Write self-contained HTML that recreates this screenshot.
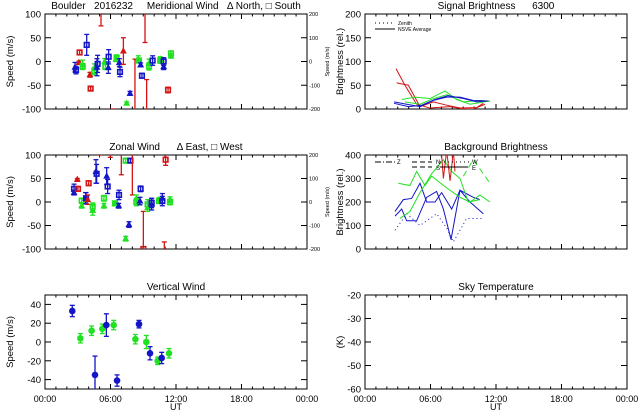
<!DOCTYPE html>
<html><head><meta charset="utf-8"><style>
html,body{margin:0;padding:0;background:#fff;}
svg{display:block;font-family:"Liberation Sans",sans-serif;}
</style></head><body>
<svg id="c" width="640" height="420" viewBox="0 0 640 420"></svg>
<script>
// ---------- DATA ----------
const xTickLabels = ["00:00","06:00","12:00","18:00","00:00"];
// Meridional wind
const merTimes = [2.75,2.84,3.11,3.17,3.82,3.45,3.45,4.12,4.18,4.52,4.52,4.76,4.82,5.13,5.47,5.53,5.80,5.83,6.20,6.50,6.56,6.81,6.87,7.18,7.48,7.79,8.24,8.55,8.61,8.76,8.88,9.16,9.31,9.53,9.53,9.86,10.56,10.56,10.87,10.87,11.27,11.54,11.54];
const merValues = [-12,-18,-2,19,35,-7,-10,-28,-57,-15,-20,-12,-5,115,0,-11,-13,10,-120,5,8,-2,-22,22,-88,-67,-120,5,2,-7,-30,120,-120,-5,-10,2,5,2,-11,0,-60,17,12];
const merErrors = [10,8,3,5,22,10,6,5,4,10,8,18,18,40,6,6,12,15,20,5,6,8,10,28,3,4,125,7,5,4,5,80,82,10,8,10,5,6,6,8,6,5,5];
const merColors = ["b","b","r","r","b","g","g","r","r","g","g","b","b","r","g","g","b","b","r","g","g","b","b","r","g","b","r","g","g","b","b","r","r","g","g","b","g","g","b","b","r","g","g"];
const merMarkers = ["t","s","t","s","s","t","s","t","s","t","s","t","s","t","t","s","t","s","t","t","s","t","s","t","t","t","t","t","s","t","s","t","t","t","s","s","t","s","t","s","s","s","t"];
// Zonal wind
const zonTimes = [2.66,2.66,2.96,3.02,3.36,3.36,3.72,3.76,3.91,4.00,4.37,4.37,4.67,4.73,5.04,5.40,5.40,5.98,5.65,5.74,6.41,6.41,6.75,6.78,6.99,7.39,7.39,7.69,7.82,8.00,8.37,8.37,8.70,8.76,9.01,9.40,9.40,9.77,9.77,10.44,10.44,10.75,10.75,10.93,11.05,11.45,11.45];
const zonValues = [20,28,48,28,-8,3,8,8,5,40,-18,-10,65,60,110,-8,8,115,55,33,-3,-3,-8,15,150,88,-78,-48,88,140,7,0,2,28,-100,-12,-5,-5,-2,5,2,8,2,-105,90,5,0];
const zonErrors = [5,10,2,5,5,4,12,12,10,5,10,8,25,20,10,5,6,20,18,15,5,4,5,10,92,4,5,6,4,125,8,8,8,6,80,8,10,12,10,4,5,10,10,20,12,6,6];
const zonColors = ["b","b","r","r","g","g","b","b","r","r","g","g","b","b","r","g","g","r","b","b","g","g","b","b","r","g","g","b","b","r","g","g","b","b","r","g","g","b","b","g","g","b","b","r","r","g","g"];
const zonMarkers = ["t","s","t","s","t","s","t","s","t","s","t","s","t","s","t","t","s","t","t","s","t","s","t","s","t","s","t","t","s","t","t","s","t","s","s","t","s","t","s","t","s","t","s","t","s","t","s"];
// Vertical wind
const verTimes = [2.50,3.24,4.27,4.58,5.25,5.62,6.29,6.60,8.28,8.61,9.28,9.62,10.32,10.69,11.36];
const verValues = [33,4,12,-35,14,18,18,-41,3,19,0,-12,-20,-17,-12];
const verErrors = [6,5,5,20,5,12,5,6,5,4,7,7,4,6,5];
const verColors = ["b","g","g","b","g","b","g","b","g","b","g","b","g","b","g"];
// Signal brightness
const sigTimes = [
 [2.84,3.66,4.73,5.95,7.79,9.01,9.92,10.99],
 [2.90,3.97,5.04,6.26,7.48,8.70,10.23,10.84],
 [3.36,4.58,5.95,7.33,8.40,9.62,11.45],
 [3.66,5.04,6.26,7.48,9.01,10.53,11.45],
 [2.66,3.82,5.04,6.26,7.48,8.70,9.92,11.15],
 [2.66,3.97,5.19,6.41,7.63,9.01,10.23,11.30]];
const sigValues = [
 [85,50,10,2,5,0,0,10],
 [55,50,5,15,8,2,3,12],
 [20,25,22,38,20,10,17],
 [15,10,22,30,15,18,16],
 [15,10,5,18,25,25,18,17],
 [12,5,8,20,28,22,15,17]];
const sigColors = ["r","r","g","g","b","b"];
// Background brightness
const bgTimes = [
 [2.75,3.36,3.82,4.73,5.65,6.56,7.18,7.88,8.70,9.62,10.84],
 [2.75,3.51,4.27,5.04,5.65,6.41,7.02,7.94,8.70,9.92,10.53],
 [2.75,3.82,5.04,6.56,7.48,8.09,9.31,10.84],
 [3.05,4.12,4.73,5.50,6.10,7.48,8.70,9.62,10.53,11.45],
 [3.20,4.12,5.04,6.10,7.18,7.94,8.70,9.46,10.53],
 [9.01,9.92,10.84,11.45],
 [7.02,7.18,7.48,7.79,7.94,8.09,8.24]];
const bgValues = [
 [140,170,120,120,220,245,170,40,250,200,150],
 [160,210,215,280,200,200,240,170,250,220,210],
 [80,150,100,150,90,30,130,130],
 [280,270,330,270,310,260,220,200,230,200],
 [130,160,240,320,380,330,300,200,210],
 [310,380,320,280],
 [400,300,420,290,350,420,330]];
const bgColors = ["b","b","b","g","g","g","r"];
const bgDash = ["","","1,3","","","6,4",""];

const COL = {r:"#d41414", g:"#22e022", b:"#1414c8"};
const svg = document.getElementById('c');
const NS = "http://www.w3.org/2000/svg";
function mk(tag, attrs, parent){
  const e = document.createElementNS(NS, tag);
  for (const k in attrs) e.setAttribute(k, attrs[k]);
  (parent||svg).appendChild(e);
  return e;
}
function txt(x,y,s,size,anchor,parent,rot){
  const t = mk('text',{x:x,y:y,'font-size':size,'text-anchor':anchor||'middle',fill:'#000'},parent);
  if(rot) t.setAttribute('transform','rotate(-90 '+x+' '+y+')');
  t.textContent = s;
  return t;
}
function panel(name,x0,x1,y0,y1,ymin,ymax,ticks,title,ytitle,xlabels,twin,ytOff){
  const g = mk('g',{});
  
  
  const X = h => x0 + h/24*(x1-x0);
  const Y = v => y1 - (v-ymin)/(ymax-ymin)*(y1-y0);
  const id = name+'-clip';
  const cp = mk('clipPath',{id:id},g); mk('rect',{x:x0,y:y0,width:x1-x0,height:y1-y0},cp);
  const frame = mk('rect',{x:x0,y:y0,width:x1-x0,height:y1-y0,fill:'none',stroke:'#000','stroke-width':1},g);
  
  
  for(let h=0;h<=24;h++){
    const L = h%6==0?5:2.5;
    mk('line',{x1:X(h),x2:X(h),y1:y1,y2:y1-L,stroke:'#000','stroke-width':1},g);
    mk('line',{x1:X(h),x2:X(h),y1:y0,y2:y0+L,stroke:'#000','stroke-width':1},g);
  }
  ticks.forEach(v=>{
    mk('line',{x1:x0,x2:x0+6,y1:Y(v),y2:Y(v),stroke:'#000'},g);
    mk('line',{x1:x1,x2:x1-6,y1:Y(v),y2:Y(v),stroke:'#000'},g);
    const t = txt(x0-4,Y(v)+3.5,String(v),9.5,'end',g);
    
    
  });
  if(twin){
    ["200","100","0","-100","-200"].forEach((s,i)=>{
      const t = txt(x1+2,y0+2+i*(y1-y0)/4,s,5.5,'start',g);
      
      
    });
    const tw = txt(x1+22,(y0+y1)/2,'Speed (m/s)',5.5,'middle',g,true);
    
    
  }
  const tt = txt((x0+x1)/2,y0-5,title,10,'middle',g);
  
  
  tt.style.whiteSpace='pre';
  const yt = txt(x0-ytOff,(y0+y1)/2,ytitle,9.5,'middle',g,true);
  
  
  if(xlabels){
    xTickLabels.forEach((s,i)=>{
      const t = txt(X(i*6),y1+13,s,9,'middle',g);
      
      
    });
    const ut = txt((x0+x1)/2,y1+21,'UT',9,'middle',g);
    
    
  }
  const data = mk('g',{'clip-path':'url(#'+id+')'},g);
  return {X,Y,g:data};
}
function errPoints(p,times,vals,errs,cols,marks,label){
  times.forEach((h,i)=>{
    const c = COL[cols[i]], x=p.X(h), y=p.Y(vals[i]);
    const e1=p.Y(vals[i]+errs[i]), e2=p.Y(vals[i]-errs[i]);
    const pt = mk('g',{},p.g);
    
    
    mk('line',{x1:x,x2:x,y1:e1,y2:e2,stroke:c,'stroke-width':1.3},pt);
    mk('line',{x1:x-2.5,x2:x+2.5,y1:e1,y2:e1,stroke:c,'stroke-width':1.3},pt);
    mk('line',{x1:x-2.5,x2:x+2.5,y1:e2,y2:e2,stroke:c,'stroke-width':1.3},pt);
    const m = marks?marks[i]:'c';
    if(m==='s') mk('rect',{x:x-2.3,y:y-2.3,width:4.6,height:4.6,fill:'none',stroke:c,'stroke-width':1.6},pt);
    else if(m==='t') mk('polygon',{points:(x)+','+(y-2.8)+' '+(x-2.6)+','+(y+2)+' '+(x+2.6)+','+(y+2),fill:c,stroke:c},pt);
    else mk('circle',{cx:x,cy:y,r:3.3,fill:c},pt);
  });
}
function lines(p,T,V,cols,dash,label){
  T.forEach((ts,i)=>{
    const pts = ts.map((h,j)=>p.X(h)+','+p.Y(V[i][j])).join(' ');
    const pl = mk('polyline',{points:pts,fill:'none',stroke:COL[cols[i]],'stroke-width':1,'stroke-dasharray':(dash&&dash[i])||'none'},p.g);
    
    
  });
}
const p1 = panel('meridional-wind-panel',45,307,14,109,-100,100,[100,50,0,-50,-100],'Boulder   2016232     Meridional Wind   \u0394 North, \u25A1 South','Speed (m/s)',false,true,32);
errPoints(p1,merTimes,merValues,merErrors,merColors,merMarkers,'meridional-point');
const p2 = panel('zonal-wind-panel',45,307,155,249,-100,100,[100,50,0,-50,-100],'Zonal Wind      \u0394 East, \u25A1 West','Speed (m/s)',false,true,32);
errPoints(p2,zonTimes,zonValues,zonErrors,zonColors,zonMarkers,'zonal-point');
const p3 = panel('vertical-wind-panel',45,307,295,389,-50,50,[40,20,0,-20,-40],'Vertical Wind','Speed (m/s)',true,false,32);
errPoints(p3,verTimes,verValues,verErrors,verColors,null,'vertical-point');
const p4 = panel('signal-brightness-panel',365,627,14,109,0,200,[200,150,100,50,0],'Signal Brightness      6300','Brightness (rel.)',false,false,22);
lines(p4,sigTimes,sigValues,sigColors,null,'signal-line');
const p5 = panel('background-brightness-panel',365,627,155,249,0,400,[400,300,200,100,0],'Background Brightness','Brightness (rel.)',false,false,22);
lines(p5,bgTimes,bgValues,bgColors,bgDash,'background-line');
const p6 = panel('sky-temperature-panel',365,627,295,389,-60,-20,[-20,-30,-40,-50,-60],'Sky Temperature','(K)',true,false,22);
// legends
const lg = mk('g',{});


mk('line',{x1:375,x2:395,y1:23,y2:23,stroke:'#000','stroke-dasharray':'1,3'},lg);
txt(398,25,'Zenith',5,'start',lg);
mk('line',{x1:375,x2:395,y1:29,y2:29,stroke:'#000'},lg);
txt(398,31,'NSVE Average',5,'start',lg);
const lg2 = mk('g',{});


mk('line',{x1:375,x2:395,y1:162,y2:162,stroke:'#000','stroke-dasharray':'6,2,1,2'},lg2);
txt(397,164,'Z',6,'start',lg2);
mk('line',{x1:412,x2:432,y1:162,y2:162,stroke:'#000','stroke-dasharray':'5,3'},lg2);
txt(436,164,'N',6,'start',lg2);
mk('line',{x1:412,x2:432,y1:167,y2:167,stroke:'#000','stroke-dasharray':'5,3'},lg2);
txt(436,170,'S',6,'start',lg2);
mk('line',{x1:440,x2:470,y1:162,y2:162,stroke:'#000','stroke-dasharray':'1,3'},lg2);
txt(472,164,'W',6,'start',lg2);
mk('line',{x1:440,x2:468,y1:167,y2:167,stroke:'#000'},lg2);
txt(472,170,'E',6,'start',lg2);
</script>
</body></html>
